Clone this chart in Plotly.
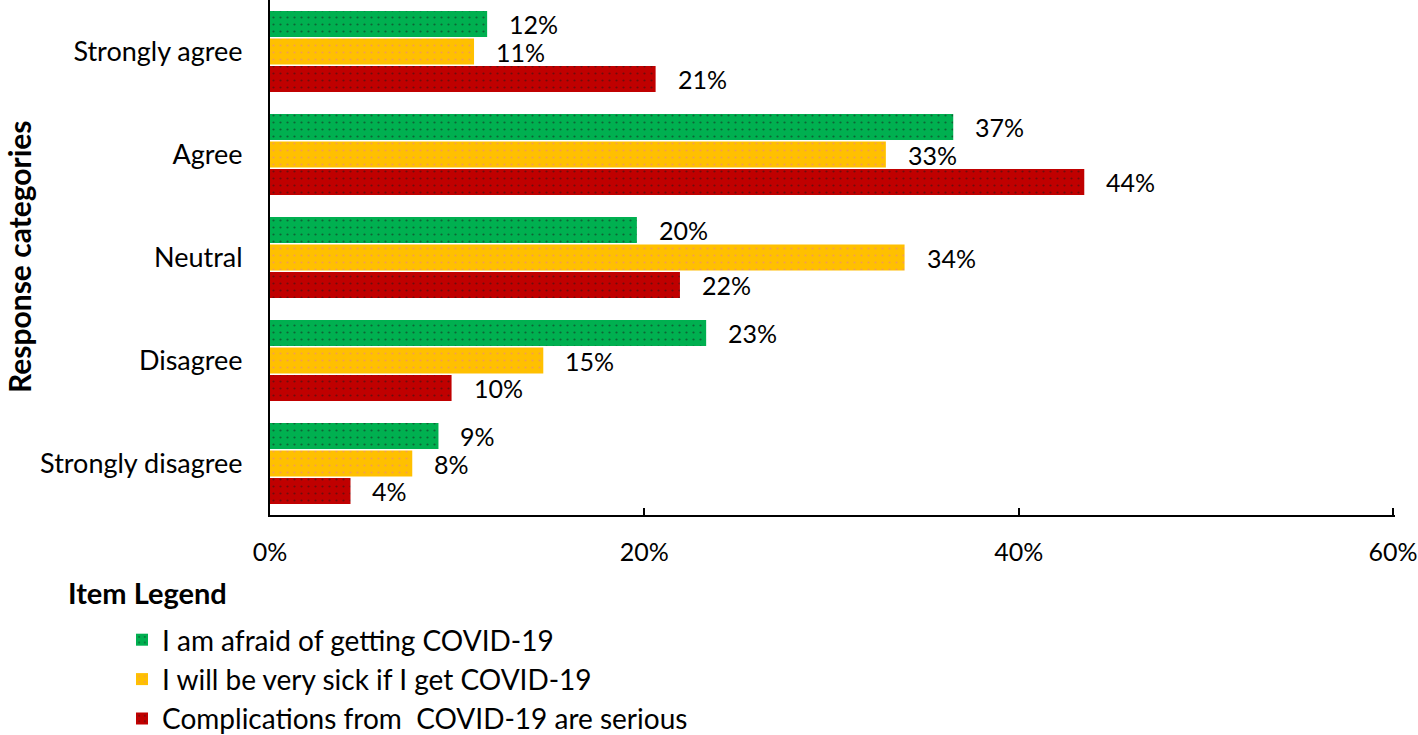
import plotly.graph_objects as go

categories = ["Strongly agree", "Agree", "Neutral", "Disagree", "Strongly disagree"]
series_names = [
    "I am afraid of getting COVID-19",
    "I will be very sick if I get COVID-19",
    "Complications from  COVID-19 are serious",
]
afraid = [11.6, 36.5, 19.6, 23.3, 9.0]
very_sick = [10.9, 32.9, 33.9, 14.6, 7.6]
complications = [20.6, 43.5, 21.9, 9.7, 4.3]
afraid_labels = ["12%", "37%", "20%", "23%", "9%"]
very_sick_labels = ["11%", "33%", "34%", "15%", "8%"]
complications_labels = ["21%", "44%", "22%", "10%", "4%"]
x_ticks = [0, 20, 40, 60]
x_tick_labels = ["0%", "20%", "40%", "60%"]

colors = ["#00B050", "#FFC000", "#C00000"]
dot_colors = ["#1a1a1a", "#E87A9A", "#1a1a1a"]
FONT = "Lato"

ypos = [len(categories) - 1 - i for i in range(len(categories))]

fig = go.Figure()
series = [
    (series_names[2], complications, complications_labels, colors[2], dot_colors[2], 3),
    (series_names[1], very_sick, very_sick_labels, colors[1], dot_colors[1], 2),
    (series_names[0], afraid, afraid_labels, colors[0], dot_colors[0], 1),
]
for name, vals, labels, col, dcol, rank in series:
    fig.add_trace(go.Bar(
        name=name, x=vals, y=ypos, orientation="h",
        marker=dict(color=col, line=dict(width=0),
                    pattern=dict(shape=".", fgcolor=dcol, bgcolor=col, size=7, solidity=0.08)),
        legendrank=rank,
        hoverinfo="skip",
    ))

bargap = 0.2
groupgap = 0.06
n = 3
slot = (1 - bargap) / n
offsets = [(-(1 - bargap) / 2 + slot * (k + 0.5)) for k in range(n)]
for k, (name, vals, labels, col, dcol, rank) in enumerate(series):
    for v, y, lab in zip(vals, ypos, labels):
        fig.add_annotation(
            x=v, y=y + offsets[k], text=lab, showarrow=False,
            xanchor="left", yanchor="middle", xshift=20,
            font=dict(family=FONT, size=25, color="black"),
        )

PW = 1125  # plot width in px
fig.add_annotation(
    xref="paper", yref="paper", x=(19 - 270) / PW, y=(515 - 257) / 515,
    text="<b>Response categories</b>",
    textangle=-90, showarrow=False, xanchor="center", yanchor="middle",
    font=dict(family=FONT, size=30, color="black"),
)
fig.add_annotation(
    xref="paper", yref="paper", x=(66 - 270) / PW, y=(515 - 592) / 515,
    text="<b>Item Legend</b>", showarrow=False, xanchor="left", yanchor="middle",
    font=dict(family=FONT, size=29, color="black"),
)

fig.update_layout(
    width=1418, height=735,
    margin=dict(l=270, r=23, t=0, b=220, autoexpand=False),
    plot_bgcolor="white", paper_bgcolor="white",
    barmode="group", bargap=bargap, bargroupgap=groupgap,
    font=dict(family=FONT, size=25, color="black"),
    showlegend=True,
    legend=dict(
        x=(122 - 270) / PW, y=(515 - 615) / 515, xanchor="left", yanchor="top",
        font=dict(family=FONT, size=28, color="black"),
        bgcolor="rgba(0,0,0,0)", tracegroupgap=0,
    ),
    xaxis=dict(
        range=[0, 60.1], tickvals=x_ticks, ticktext=x_tick_labels,
        showline=True, linecolor="black", linewidth=2,
        ticks="inside", ticklen=7, tickwidth=2, tickcolor="black",
        showgrid=False, zeroline=False, ticklabelstandoff=14,
        ticklabeloverflow="allow",
        tickfont=dict(family=FONT, size=25), automargin=False,
    ),
    yaxis=dict(
        range=[-0.5, len(categories) - 0.5], tickvals=ypos, ticktext=categories,
        showline=True, linecolor="black", linewidth=2,
        ticks="", showgrid=False, zeroline=False, ticklabelstandoff=20,
        tickfont=dict(family=FONT, size=27), automargin=False,
    ),
)

fig.write_html(
    "out.html",
    config={"displayModeBar": False},
    post_script="document.body.style.margin='0';document.body.style.overflow='hidden';",
)
